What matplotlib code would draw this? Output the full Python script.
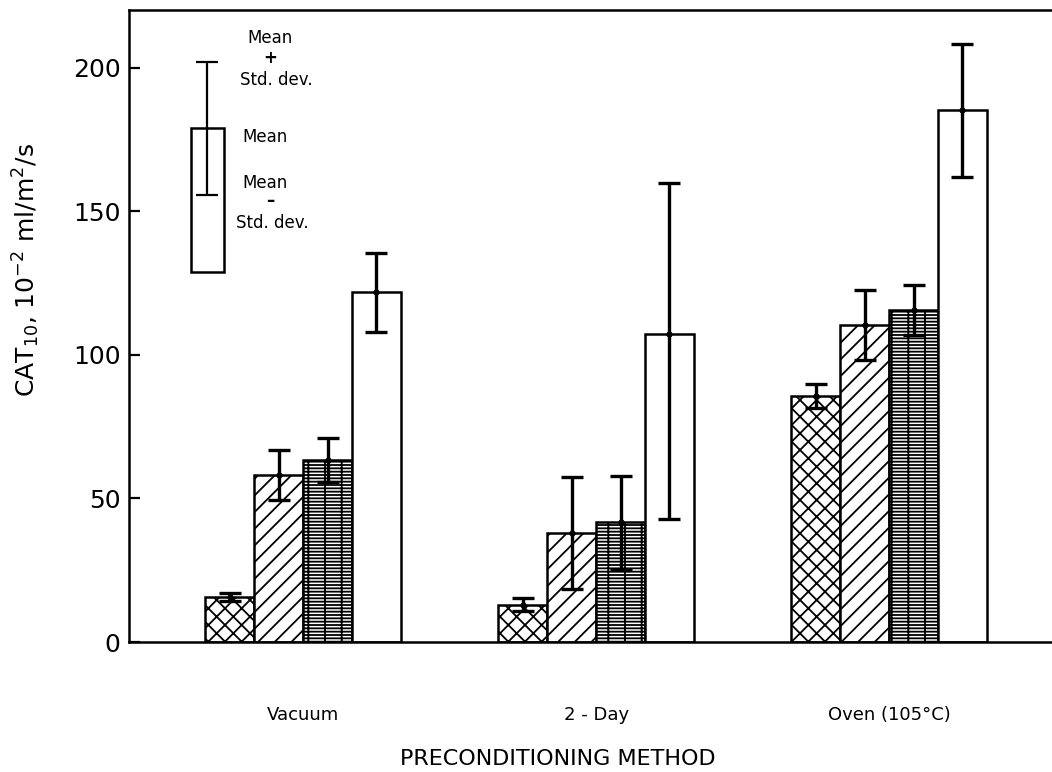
import numpy as np
import matplotlib.pyplot as plt

# ---- data ----
methods = ["Vacuum", "2 - Day", "Oven (105°C)"]
hatches = ["xx", "//", "-----|", ""]

cross_mean = [15.7, 13.0, 85.7]
cross_lo = [14.3, 10.8, 81.5]
cross_hi = [17.0, 15.3, 90.0]

diag_mean = [58.2, 38.0, 110.5]
diag_lo = [49.5, 18.5, 98.3]
diag_hi = [66.9, 57.5, 122.6]

dense_mean = [63.4, 41.8, 115.7]
dense_lo = [55.7, 25.0, 107.0]
dense_hi = [71.0, 57.8, 124.4]

white_mean = [122.0, 107.3, 185.2]
white_lo = [108.0, 42.9, 162.1]
white_hi = [135.5, 160.0, 208.3]

series_mean = [cross_mean, diag_mean, dense_mean, white_mean]
series_lo = [cross_lo, diag_lo, dense_lo, white_lo]
series_hi = [cross_hi, diag_hi, dense_hi, white_hi]

# key (the explanatory bar in the upper left)
key_x = -0.327
key_mean = 179.0
key_bottom = 129.0
key_lo = 155.7
key_hi = 202.0

plt.rcParams['font.family'] = ['DejaVu Sans']
plt.rcParams['hatch.linewidth'] = 1.3

fig = plt.figure(figsize=(10.52, 7.72), dpi=100)
ax = fig.add_axes([129 / 1052, 1 - 642 / 772, 1 - 129 / 1052, (642 - 10) / 772])

x = np.arange(len(methods))
width = 0.167
offsets = (np.arange(4) - 1.5) * width

for k in range(4):
    xs = x + offsets[k]
    m = np.array(series_mean[k])
    lo = np.array(series_lo[k])
    hi = np.array(series_hi[k])
    ax.bar(xs, m, width=width, facecolor='white', edgecolor='black',
           hatch=hatches[k], linewidth=1.8, zorder=2)
    ax.errorbar(xs, m, yerr=[m - lo, hi - m], fmt='o', color='black', ms=3.5,
                elinewidth=2.4, capsize=8, capthick=2.4, zorder=3)

# key bar
ax.bar([key_x], [key_mean - key_bottom], bottom=key_bottom, width=0.113,
       facecolor='white', edgecolor='black', linewidth=1.8, zorder=2)
ax.errorbar([key_x], [key_mean], yerr=[[key_mean - key_lo], [key_hi - key_mean]],
            fmt='none', color='black', elinewidth=1.6, capsize=8, capthick=1.6, zorder=3)

fs = 12
ax.text(-0.113, 210.5, "Mean", ha='center', va='center', fontsize=fs)
ax.text(-0.113, 203.5, "+", ha='center', va='center', fontsize=fs, fontweight='bold')
ax.text(-0.090, 195.8, "Std. dev.", ha='center', va='center', fontsize=fs)
ax.text(-0.130, 176.0, "Mean", ha='center', va='center', fontsize=fs)
ax.text(-0.130, 160.0, "Mean", ha='center', va='center', fontsize=fs)
ax.text(-0.113, 153.5, "–", ha='center', va='center', fontsize=fs, fontweight='bold')
ax.text(-0.105, 146.0, "Std. dev.", ha='center', va='center', fontsize=fs)

ax.set_xlim(-0.594, 2.556)
ax.set_ylim(0, 220.2)
ax.set_yticks([0, 50, 100, 150, 200])
ax.set_xticks(x)
ax.set_xticklabels(methods, fontsize=13)
ax.tick_params(axis='x', length=0, pad=46)
ax.tick_params(axis='y', direction='in', length=8, width=1.6, labelsize=18, pad=6)

for side in ['left', 'top', 'bottom']:
    ax.spines[side].set_linewidth(1.8)
ax.spines['right'].set_visible(False)

ax.set_ylabel("CAT$_{10}$, 10$^{-2}$ ml/m$^2$/s", fontsize=18)
ax.yaxis.set_label_coords(-0.094, 0.589)
ax.set_xlabel("PRECONDITIONING METHOD", fontsize=16)
ax.xaxis.set_label_coords(0.465, -0.17)

fig.savefig("out.png", dpi=100)
